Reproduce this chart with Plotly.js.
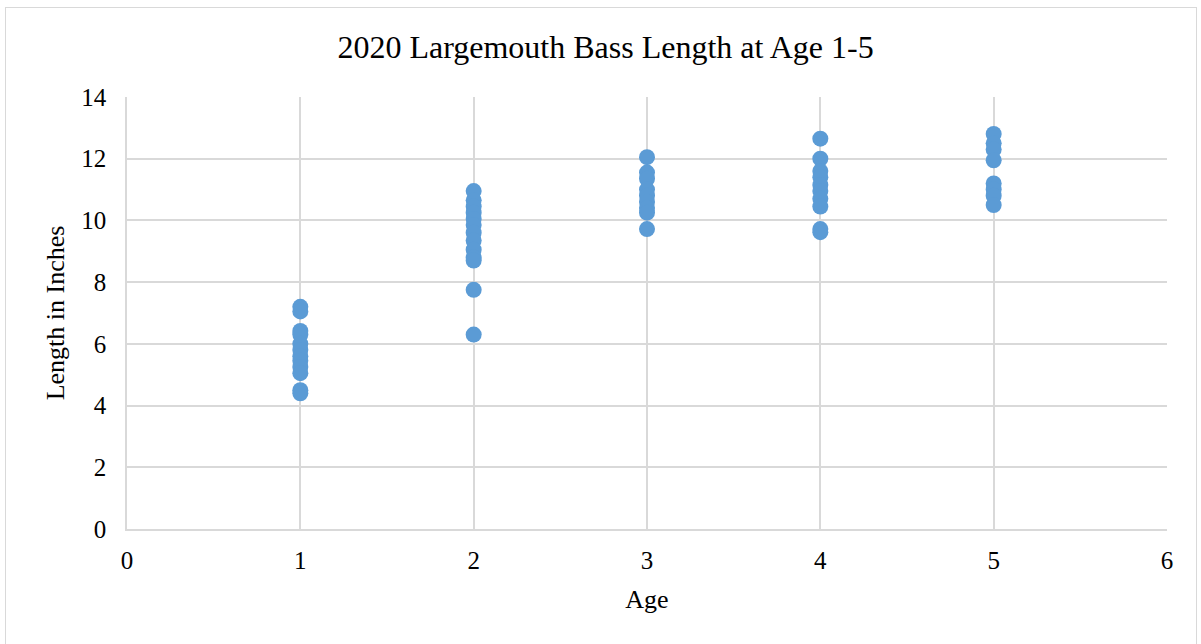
<!DOCTYPE html>
<html><head><meta charset="utf-8">
<script src="https://cdn.plot.ly/plotly-3.0.1.min.js"></script>
<style>html,body{margin:0;padding:0;background:#fff}#wrap{position:relative;width:1201px;height:644px}#frame{position:absolute;left:5px;top:7px;width:1190px;height:636px;border:1.5px solid #d9d9d9;pointer-events:none}</style>
</head><body><div id="wrap"><div id="chart" style="width:1201px;height:644px"></div><div id="frame"></div></div>
<script>
const age1 = [7.2, 7.05, 6.42, 6.3, 6.0, 5.8, 5.6, 5.45, 5.25, 5.05, 4.5, 4.4];
const age2 = [10.95, 10.65, 10.45, 10.25, 10.05, 9.85, 9.6, 9.35, 9.05, 8.8, 8.7, 7.75, 6.3];
const age3 = [12.05, 11.55, 11.35, 11.0, 10.8, 10.6, 10.4, 10.25, 9.72];
const age4 = [12.65, 12.0, 11.6, 11.4, 11.15, 10.95, 10.7, 10.45, 9.72, 9.62];
const age5 = [12.8, 12.5, 12.3, 11.95, 11.2, 11.0, 10.8, 10.5];
const groups = [[1, age1], [2, age2], [3, age3], [4, age4], [5, age5]];
const xs = [], ys = [];
groups.forEach(([a, arr]) => arr.forEach(v => { xs.push(a); ys.push(v); }));
const font = "'Liberation Serif','Times New Roman',serif";
Plotly.newPlot('chart', [{
  x: xs, y: ys, type: 'scatter', mode: 'markers',
  marker: {color: '#5b9bd5', size: 16}, hoverinfo: 'x+y'
}], {
  width: 1201, height: 644,
  margin: {l: 127, r: 34, t: 97, b: 115},
  paper_bgcolor: '#fff', plot_bgcolor: '#fff',
  title: {text: '2020 Largemouth Bass Length at Age 1-5', font: {family: font, size: 32, color: '#000'}, x: 0.5042, xanchor: 'center', y: 0.927, yanchor: 'middle'},
  xaxis: {range: [0, 6], dtick: 1, tick0: 0, showgrid: true, gridcolor: '#d9d9d9', gridwidth: 1.5, zeroline: false,
    showline: true, linecolor: '#d9d9d9', linewidth: 1.5, ticks: '', ticklabelstandoff: 8, tickfont: {family: font, size: 25, color: '#000'},
    title: {text: 'Age', font: {family: font, size: 26, color: '#000'}, standoff: 17}},
  yaxis: {range: [0, 14], dtick: 2, tick0: 0, showgrid: true, gridcolor: '#d9d9d9', gridwidth: 1.5, zeroline: false,
    showline: true, linecolor: '#d9d9d9', linewidth: 1.5, ticks: '', ticklabelstandoff: 14, tickfont: {family: font, size: 25, color: '#000'},
    title: {text: 'Length in Inches', font: {family: font, size: 26, color: '#000'}, standoff: 9}},
  showlegend: false
}, {displayModeBar: false});
</script></body></html>
